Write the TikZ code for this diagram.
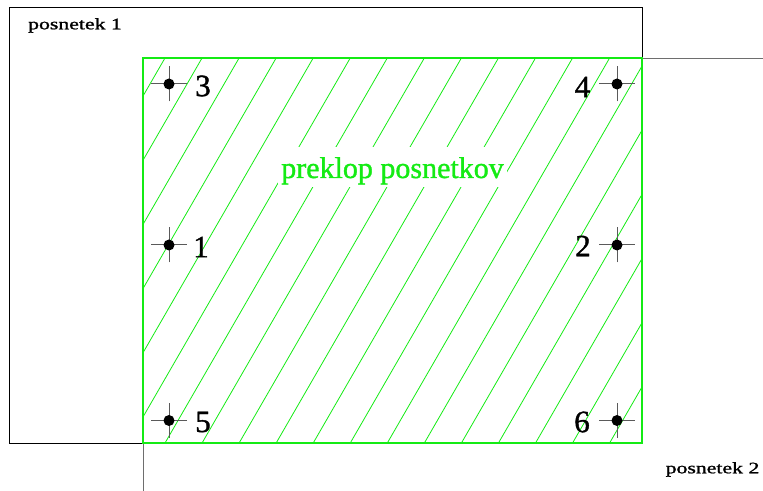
\documentclass[tikz,border=0pt]{standalone}
\usepackage{fontspec}
\setmainfont{Liberation Serif}
\newfontfamily\heavyserif[FakeBold=1.2]{Liberation Serif}
\definecolor{hgreen}{RGB}{20,235,20}
\definecolor{frame2}{RGB}{110,110,110}
\definecolor{crossc}{RGB}{90,90,90}
\tikzset{
  frameone/.style={draw=black, line width=0.9pt},
  frametwo/.style={draw=frame2, line width=0.9pt},
  overlap/.style={draw=hgreen, line width=1.1pt},
  hatchline/.style={draw=hgreen, line width=0.8pt},
  marker/.style={circle, fill=black, inner sep=0pt, minimum size=11pt},
  crossline/.style={draw=crossc, line width=1pt},
  numlabel/.style={inner sep=0pt, font=\heavyserif\fontsize{31}{31}\selectfont},
  shotlabel/.style={inner sep=0pt, font=\heavyserif\fontsize{16}{16}\selectfont, xscale=1.36},
  overlaplabel/.style={fill=white, text=hgreen, inner xsep=3pt, inner ysep=2pt,
     text height=29pt, text depth=7pt, font=\heavyserif\fontsize{30}{30}\selectfont},
}
\begin{document}
\begin{tikzpicture}[x=1pt,y=1pt]
\useasboundingbox (0,0) rectangle (763,490);
% posnetek 2 frame (extends off the picture)
\draw[frametwo] (770,432) -- (143,432) -- (143,-5);
% posnetek 1 frame
\draw[frameone] (9,482.5) rectangle (642,47);
% hatching of the overlap
\begin{scope}
  \clip (143,47) rectangle (642,432);
  \foreach \k in {0,...,19} {
    \draw[hatchline] ({165+37.05*\k},432) ++(60:30) -- ++(240:500);
  }
\end{scope}
\draw[overlap] (143,47) rectangle (642,432);
\node[overlaplabel, anchor=base] (ovl) at (392.5,312) {preklop posnetkov};
% labels of the two images
\node[shotlabel, anchor=base] (s1) at (75,460.7) {posnetek 1};
\node[shotlabel, anchor=base] (s2) at (712.5,16.7) {posnetek 2};
% control points
\foreach \n/\x/\y in {m3/169/406, m4/617/406, m1/169/245, m2/617/245, m5/169/69.5, m6/617/69.5} {
  \coordinate (\n) at (\x,\y);
  \draw[crossline] (\x-18,\y) -- (\x+18,\y);
  \draw[crossline] (\x,\y-17.5) -- (\x,\y+17.5);
  \node[marker] at (\n) {};
}
\node[numlabel] (n3) at (203,404) {3};
\node[numlabel] (n4) at (582.5,403) {4};
\node[numlabel] (n1) at (201,243) {1};
\node[numlabel] (n2) at (583,244) {2};
\node[numlabel] (n5) at (203,68) {5};
\node[numlabel] (n6) at (582,68) {6};
\end{tikzpicture}
\end{document}
